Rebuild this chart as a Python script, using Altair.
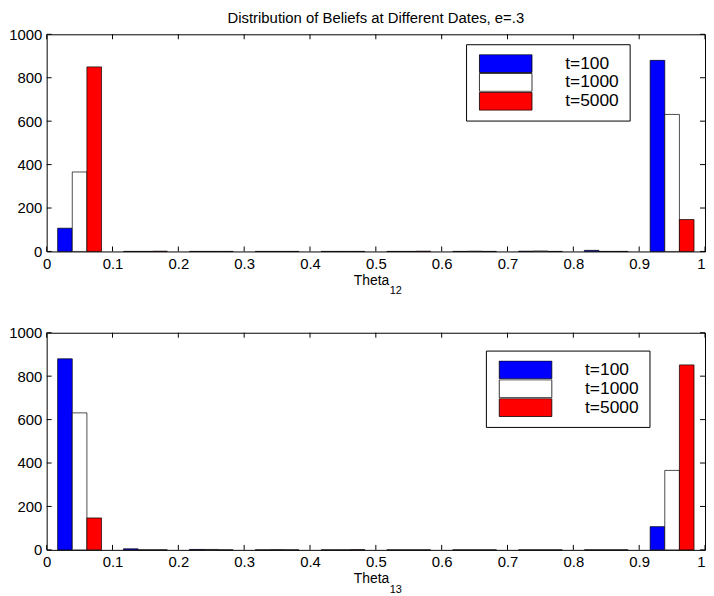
import altair as alt
import pandas as pd

# ---- data ----
bin_centers = [0.05, 0.15, 0.25, 0.35, 0.45, 0.55, 0.65, 0.75, 0.85, 0.95]
series = ["t=100", "t=1000", "t=5000"]
colors = ["#0000ff", "#ffffff", "#ff0000"]

top_t100 = [107, 0, 0, 0, 0, 0, 0, 1, 5, 880]
top_t1000 = [366, 0, 0, 0, 0, 0, 1, 2, 0, 631]
top_t5000 = [850, 1, 0, 0, 0, 1, 0, 0, 0, 147]

bot_t100 = [880, 5, 2, 0, 0, 0, 0, 0, 0, 107]
bot_t1000 = [631, 0, 2, 1, 0, 0, 0, 0, 0, 366]
bot_t5000 = [147, 0, 0, 0, 1, 0, 0, 0, 0, 852]

x_ticks = [0, 0.1, 0.2, 0.3, 0.4, 0.5, 0.6, 0.7, 0.8, 0.9, 1]
y_ticks = [0, 200, 400, 600, 800, 1000]

title_text = "Distribution of Beliefs at Different Dates, e=.3"

W = 664
H = 219
FONT = "Liberation Sans"


def make_df(vals):
    rows = []
    bar_w = 1 / 45
    for i, (name, arr) in enumerate(zip(series, vals)):
        for c, v in zip(bin_centers, arr):
            x0 = c - 1 / 30 + i * bar_w
            rows.append({"series": name, "x": x0, "x1": x0 + bar_w, "y": v})
    return pd.DataFrame(rows)


xt = pd.DataFrame({"x": x_ticks})
yt = pd.DataFrame({"y": y_ticks})
one = pd.DataFrame({"k": [0]})


def panel(vals, sub, lx, ly, title=None):
    df = make_df(vals)
    xscale = alt.Scale(domain=[0, 1], nice=False, zero=False)
    yscale = alt.Scale(domain=[0, 1000], nice=False)
    xaxis = alt.Axis(
        values=x_ticks, format="~g", ticks=False, domain=False, grid=False,
        labelFontSize=15, labelPadding=5, labelColor="black", labelFont=FONT,
        labelAlign={"condition": {"test": "datum.value == 1", "value": "right"}, "value": "center"},
        title="Theta", titleFontSize=14, titleFontWeight="normal",
        titleFont=FONT, titleColor="black", titleX=W / 2 + 13, titleAlign="right",
        titleY=33, titleBaseline="alphabetic")
    yaxis = alt.Axis(
        values=y_ticks, format="d", ticks=False, domain=False, grid=False,
        labelFontSize=15, labelPadding=5, labelColor="black", labelFont=FONT,
        title=None)
    bars = alt.Chart(df).mark_bar(stroke="black", strokeWidth=0.7).encode(
        x=alt.X("x:Q", scale=xscale, axis=xaxis, title="Theta"),
        x2="x1:Q",
        y=alt.Y("y:Q", scale=yscale, axis=yaxis, title=None),
        y2=alt.datum(0),
        fill=alt.Fill("series:N", scale=alt.Scale(domain=series, range=colors),
                      legend=alt.Legend(
                          orient="none", legendX=lx, legendY=ly, title=None,
                          symbolType="M-1,-0.34H1V0.34H-1Z", symbolSize=2809,
                          symbolStrokeColor="black", symbolStrokeWidth=0.8,
                          symbolOpacity=1, clipHeight=19, symbolOffset=3,
                          labelFontSize=17.5, labelFont=FONT, labelColor="black",
                          labelOffset=33, rowPadding=0, padding=10,
                          strokeColor="black", fillColor="white")),
    )
    tb = alt.Chart(xt).mark_rule(color="black", strokeWidth=1).encode(
        x=alt.X("x:Q", scale=xscale, axis=xaxis, title="Theta"),
        y=alt.value(H), y2=alt.value(H - 5))
    tt = alt.Chart(xt).mark_rule(color="black", strokeWidth=1).encode(
        x=alt.X("x:Q", scale=xscale, axis=xaxis, title="Theta"),
        y=alt.value(0), y2=alt.value(5))
    tl = alt.Chart(yt).mark_rule(color="black", strokeWidth=1).encode(
        y=alt.Y("y:Q", scale=yscale, axis=yaxis, title=None),
        x=alt.value(0), x2=alt.value(5))
    tr = alt.Chart(yt).mark_rule(color="black", strokeWidth=1).encode(
        y=alt.Y("y:Q", scale=yscale, axis=yaxis, title=None),
        x=alt.value(W), x2=alt.value(W - 5))
    subtxt = alt.Chart(one).mark_text(
        align="left", baseline="alphabetic", fontSize=11, font=FONT, color="black"
    ).encode(x=alt.value(W / 2 + 14), y=alt.value(H + 43), text=alt.value(sub))
    layer = alt.layer(bars, tb, tt, tl, tr, subtxt).properties(width=W, height=H)
    if title:
        layer = layer.properties(title=alt.Title(
            title, fontSize=15, fontWeight="normal", font=FONT, color="black",
            anchor="middle", offset=1))
    return layer


top = panel([top_t100, top_t1000, top_t5000], "12", 423, 10, title_text)
bottom = panel([bot_t100, bot_t1000, bot_t5000], "13", 443, 18)

chart = alt.vconcat(top, bottom, spacing=28).resolve_scale(
    fill="independent").resolve_legend(fill="independent").properties(
    padding=0).configure_view(stroke="black", strokeWidth=1)

chart.save("out.html", embed_options={"renderer": "svg", "actions": False})
